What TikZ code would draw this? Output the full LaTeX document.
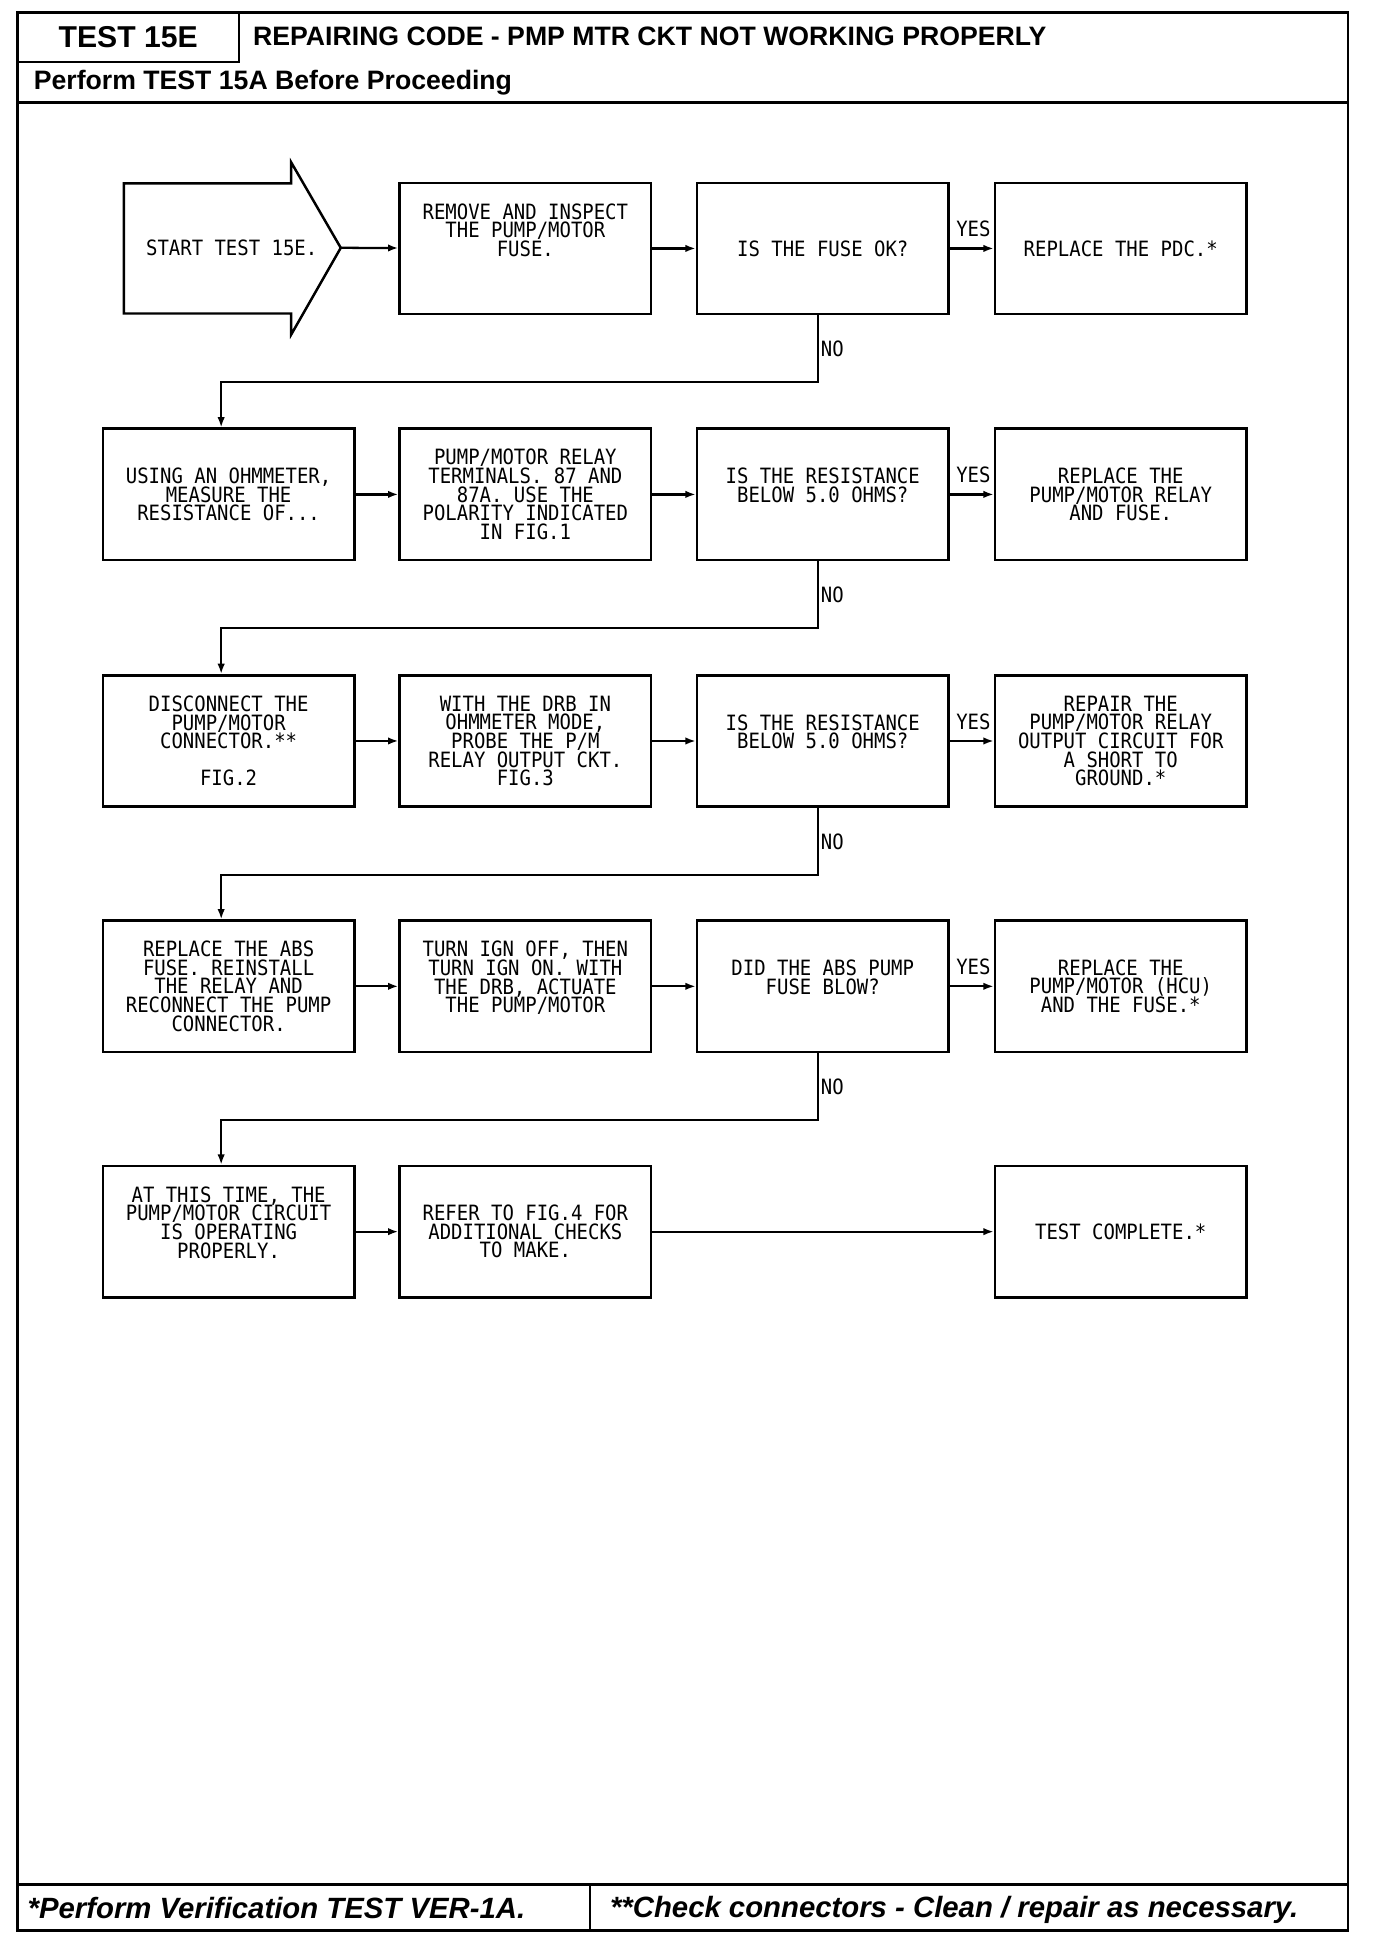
\documentclass[tikz,border=0pt]{standalone}
\usepackage{fontspec}
\setmainfont{Liberation Sans}
\newfontfamily\plotter[FakeStretch=0.9]{DejaVu Sans Mono}
\usetikzlibrary{arrows.meta}
\tikzset{
  box/.style={draw,line width=1.2pt,minimum width=121.8pt,minimum height=63.6pt,align=center,inner sep=0pt,font=\plotter\fontsize{10.2}{9}\selectfont},
  link/.style={line width=1.1pt,-{Latex[length=5pt,width=3.6pt]}},
  tag/.style={font=\plotter\fontsize{10.2}{9}\selectfont,inner sep=1pt},
}
\begin{document}
\begin{tikzpicture}[x=0.6pt,y=-0.6pt]
        \useasboundingbox(0,0)rectangle(1110.5,1567.3);
        % frame, header and footer
        \draw[line width=1.2pt](14,10)rectangle(1088,1558);
        \draw[line width=1.2pt](14,50)--(193,50)--(193,10);
        \draw[line width=1.5pt](14,83)--(1088,83);
        \draw[line width=1.2pt](14,1521)--(1088,1521);
        \draw[line width=1.2pt](476,1521)--(476,1558);
        \node[font=\bfseries\fontsize{14.6}{16}\selectfont](hdr)at(103.5,30){TEST 15E};
        \node[anchor=west,inner sep=0pt,font=\bfseries\fontsize{12.9}{14}\selectfont](ttl)at(204,29){REPAIRING CODE - PMP MTR CKT NOT WORKING PROPERLY};
        \node[anchor=west,inner sep=0pt,font=\bfseries\fontsize{12.9}{14}\selectfont](pre)at(27,67){Perform TEST 15A Before Proceeding};
        \node[anchor=west,inner sep=0pt,font=\bfseries\itshape\fontsize{14.2}{16}\selectfont](ft1)at(22,1540){*Perform Verification TEST VER-1A.};
        \node[anchor=west,inner sep=0pt,font=\bfseries\itshape\fontsize{14.2}{16}\selectfont](ft2)at(492,1541){**Check connectors - Clean / repair as necessary.};
        % start arrow
        \draw[line width=1.2pt](100,148)--(235,148)--(235,131)--(275,200)--(235,270)--(235,253)--(100,253)--cycle;
        \coordinate(tip)at(275,200);
        \node[tag](start)at(187,200){START TEST 15E.};
        % row 1
        \node[box](b12)at(424,200.5){REMOVE AND INSPECT\\THE PUMP/MOTOR\\FUSE.\\ \mbox{}\\ \mbox{}};
        \node[box](b13)at(664,200.5){IS THE FUSE OK?};
        \node[box](b14)at(904.5,200.5){REPLACE THE PDC.*};
        % row 2
        \node[box](b21)at(184.5,399){USING AN OHMMETER,\\MEASURE THE\\RESISTANCE OF...};
        \node[box](b22)at(424,399){PUMP/MOTOR RELAY\\TERMINALS. 87 AND\\87A. USE THE\\POLARITY INDICATED\\IN FIG.1};
        \node[box](b23)at(664,399){IS THE RESISTANCE\\BELOW 5.0 OHMS?\\ \mbox{}};
        \node[box](b24)at(904.5,399){REPLACE THE\\PUMP/MOTOR RELAY\\AND FUSE.};
        % row 3
        \node[box](b31)at(184.5,598){DISCONNECT THE\\PUMP/MOTOR\\CONNECTOR.**\\ \mbox{}\\FIG.2};
        \node[box](b32)at(424,598){WITH THE DRB IN\\OHMMETER MODE,\\PROBE THE P/M\\RELAY OUTPUT CKT.\\FIG.3};
        \node[box](b33)at(664,598){IS THE RESISTANCE\\BELOW 5.0 OHMS?\\ \mbox{}};
        \node[box](b34)at(904.5,598){REPAIR THE\\PUMP/MOTOR RELAY\\OUTPUT CIRCUIT FOR\\A SHORT TO\\GROUND.*};
        % row 4
        \node[box](b41)at(184.5,796){REPLACE THE ABS\\FUSE. REINSTALL\\THE RELAY AND\\RECONNECT THE PUMP\\CONNECTOR.};
        \node[box](b42)at(424,796){TURN IGN OFF, THEN\\TURN IGN ON. WITH\\THE DRB, ACTUATE\\THE PUMP/MOTOR\\ \mbox{}};
        \node[box](b43)at(664,796){DID THE ABS PUMP\\FUSE BLOW?\\ \mbox{}};
        \node[box](b44)at(904.5,796){REPLACE THE\\PUMP/MOTOR (HCU)\\AND THE FUSE.*};
        % row 5
        \node[box](b51)at(184.5,994){AT THIS TIME, THE\\PUMP/MOTOR CIRCUIT\\IS OPERATING\\PROPERLY.\\ \mbox{}};
        \node[box](b52)at(424,994){REFER TO FIG.4 FOR\\ADDITIONAL CHECKS\\TO MAKE.};
        \node[box](b54)at(904.5,994){TEST COMPLETE.*};
        % connectors
        \draw[link](tip)--(b12);
        \foreach \r in {1,2,3,4} {
          \ifnum\r>1 \draw[link](b\r1)--(b\r2); \fi
          \draw[link](b\r2)--(b\r3);
          \draw[link](b\r3)--node[tag,pos=1,anchor=south east,yshift=4pt]{YES}(b\r4);
        }
        \draw[link]([xshift=-2.4pt]b13.south)--++(0,54)node[tag,midway,right]{NO}-|([xshift=-3.6pt]b21.north);
        \draw[link]([xshift=-2.4pt]b23.south)--++(0,54)node[tag,midway,right]{NO}-|([xshift=-3.6pt]b31.north);
        \draw[link]([xshift=-2.4pt]b33.south)--++(0,54)node[tag,midway,right]{NO}-|([xshift=-3.6pt]b41.north);
        \draw[link]([xshift=-2.4pt]b43.south)--++(0,54)node[tag,midway,right]{NO}-|([xshift=-3.6pt]b51.north);
        \draw[link](b51)--(b52);
        \draw[link](b52)--(b54);
    \end{tikzpicture}
\end{document}
